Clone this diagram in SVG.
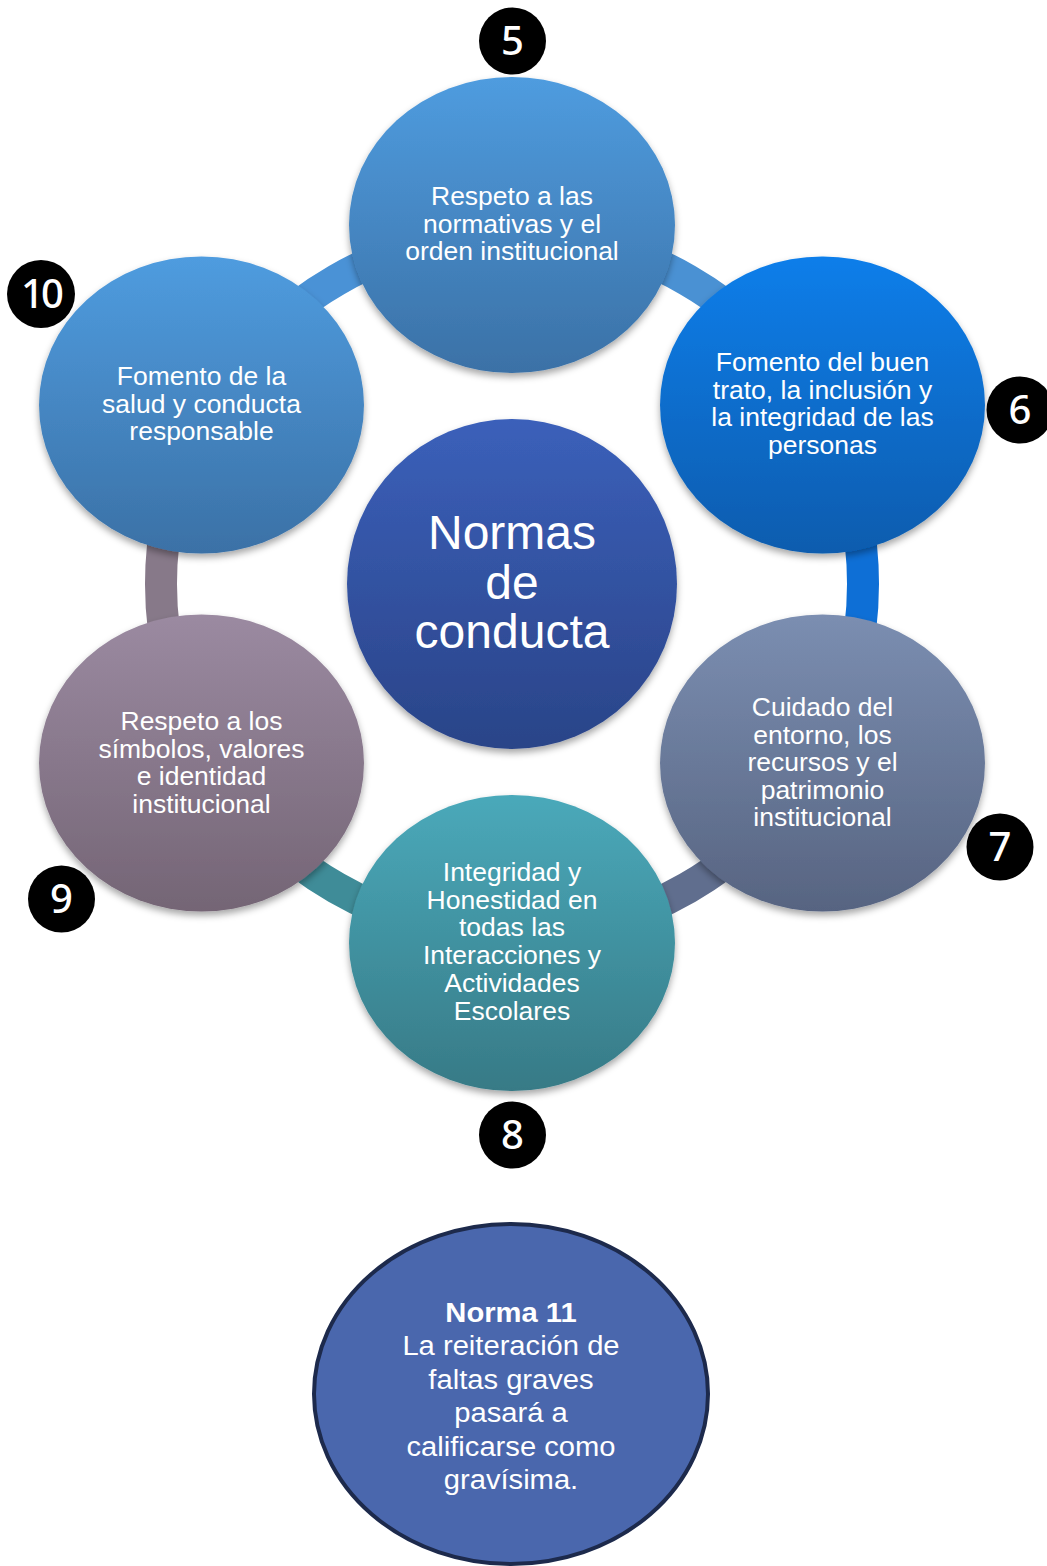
<svg xmlns="http://www.w3.org/2000/svg" width="1047" height="1566" viewBox="0 0 1047 1566">
  <defs>
    <linearGradient id="gBlue" x1="0" y1="0" x2="0" y2="1">
      <stop offset="0" stop-color="#4f9cdf"/>
      <stop offset="1" stop-color="#3b71a6"/>
    </linearGradient>
    <linearGradient id="gBright" x1="0" y1="0" x2="0" y2="1">
      <stop offset="0" stop-color="#0e7eea"/>
      <stop offset="1" stop-color="#0a5cae"/>
    </linearGradient>
    <linearGradient id="gSlate" x1="0" y1="0" x2="0" y2="1">
      <stop offset="0" stop-color="#7b8eb1"/>
      <stop offset="1" stop-color="#576481"/>
    </linearGradient>
    <linearGradient id="gTeal" x1="0" y1="0" x2="0" y2="1">
      <stop offset="0" stop-color="#4aa9ba"/>
      <stop offset="1" stop-color="#377a86"/>
    </linearGradient>
    <linearGradient id="gMauve" x1="0" y1="0" x2="0" y2="1">
      <stop offset="0" stop-color="#9b8aa1"/>
      <stop offset="1" stop-color="#746575"/>
    </linearGradient>
    <linearGradient id="gCore" x1="0" y1="0" x2="0" y2="1">
      <stop offset="0" stop-color="#3b60ba"/>
      <stop offset="1" stop-color="#2a4488"/>
    </linearGradient>
    <filter id="shadow" x="-20%" y="-20%" width="140%" height="150%">
      <feDropShadow dx="0" dy="4" stdDeviation="3.5" flood-color="#000" flood-opacity="0.35"/>
    </filter>
  </defs>
  <style>
    .arc { fill: none; stroke-width: 32; }
    .node { filter: url(#shadow); }
    .lbl { font-family: "Liberation Sans", Arial, sans-serif; font-size: 25px; fill: #ffffff; text-anchor: middle; }
    .core { font-family: "Liberation Sans", Arial, sans-serif; font-size: 48px; fill: #ffffff; text-anchor: middle; }
    .note { font-family: "Liberation Sans", Arial, sans-serif; font-size: 27px; fill: #ffffff; text-anchor: middle; }
    .badge circle { fill: #000000; }
    .badge text { font-family: "Noto Sans", "Open Sans", sans-serif; font-size: 40px; font-weight: 500; fill: #ffffff; text-anchor: middle; }
  </style>
  <rect width="1047" height="1566" fill="#ffffff"/>

  <!-- ring segments between neighbouring nodes -->
  <g id="connectors">
    <path class="arc" stroke="#4a91d3" d="M512 233 A351 351 0 0 1 815.98 408.5"/>
    <path class="arc" stroke="#0e6fd6" d="M815.98 408.5 A351 351 0 0 1 815.98 759.5"/>
    <path class="arc" stroke="#606e8e" d="M815.98 759.5 A351 351 0 0 1 512 935"/>
    <path class="arc" stroke="#3f8c98" d="M512 935 A351 351 0 0 1 208.02 759.5"/>
    <path class="arc" stroke="#877989" d="M208.02 759.5 A351 351 0 0 1 208.02 408.5"/>
    <path class="arc" stroke="#4a92d6" d="M208.02 408.5 A351 351 0 0 1 512 233"/>
  </g>

  <!-- central node -->
  <g id="core">
    <circle class="node" cx="512" cy="584" r="165" fill="url(#gCore)"/>
    <text class="core" x="512" y="549">Normas</text>
    <text class="core" x="512" y="598.5">de</text>
    <text class="core" x="512" y="648">conducta</text>
  </g>

  <!-- outer nodes, clockwise from the top -->
  <g id="n5">
    <ellipse class="node" cx="512" cy="225" rx="163" ry="148" fill="url(#gBlue)"/>
    <g transform="matrix(1.06 0 0 1 -30.72 0)">
      <text class="lbl" x="512" y="205">Respeto a las</text>
      <text class="lbl" x="512" y="233">normativas y el</text>
      <text class="lbl" x="512" y="260.5">orden institucional</text>
    </g>
  </g>

  <g id="n6">
    <ellipse class="node" cx="822.5" cy="405" rx="162.5" ry="148.5" fill="url(#gBright)"/>
    <g transform="matrix(1.06 0 0 1 -49.35 0)">
      <text class="lbl" x="822.5" y="371.5">Fomento del buen</text>
      <text class="lbl" x="822.5" y="399">trato, la inclusión y</text>
      <text class="lbl" x="822.5" y="426.5">la integridad de las</text>
      <text class="lbl" x="822.5" y="454">personas</text>
    </g>
  </g>

  <g id="n7">
    <ellipse class="node" cx="822.5" cy="763" rx="162.5" ry="148.5" fill="url(#gSlate)"/>
    <g transform="matrix(1.06 0 0 1 -49.35 0)">
      <text class="lbl" x="822.5" y="716.5">Cuidado del</text>
      <text class="lbl" x="822.5" y="744">entorno, los</text>
      <text class="lbl" x="822.5" y="771.5">recursos y el</text>
      <text class="lbl" x="822.5" y="799">patrimonio</text>
      <text class="lbl" x="822.5" y="826.5">institucional</text>
    </g>
  </g>

  <g id="n8">
    <ellipse class="node" cx="512" cy="943" rx="163" ry="148" fill="url(#gTeal)"/>
    <g transform="matrix(1.06 0 0 1 -30.72 0)">
      <text class="lbl" x="512" y="881.5">Integridad y</text>
      <text class="lbl" x="512" y="909">Honestidad en</text>
      <text class="lbl" x="512" y="936.5">todas las</text>
      <text class="lbl" x="512" y="964.5">Interacciones y</text>
      <text class="lbl" x="512" y="992">Actividades</text>
      <text class="lbl" x="512" y="1020">Escolares</text>
    </g>
  </g>

  <g id="n9">
    <ellipse class="node" cx="201.5" cy="763" rx="162.5" ry="148.5" fill="url(#gMauve)"/>
    <g transform="matrix(1.06 0 0 1 -12.09 0)">
      <text class="lbl" x="201.5" y="730.5">Respeto a los</text>
      <text class="lbl" x="201.5" y="758">símbolos, valores</text>
      <text class="lbl" x="201.5" y="785.5">e identidad</text>
      <text class="lbl" x="201.5" y="813">institucional</text>
    </g>
  </g>

  <g id="n10">
    <ellipse class="node" cx="201.5" cy="405" rx="162.5" ry="148.5" fill="url(#gBlue)"/>
    <g transform="matrix(1.06 0 0 1 -12.09 0)">
      <text class="lbl" x="201.5" y="385.5">Fomento de la</text>
      <text class="lbl" x="201.5" y="413">salud y conducta</text>
      <text class="lbl" x="201.5" y="440.5">responsable</text>
    </g>
  </g>

  <!-- numbered badges -->
  <g id="b5" class="badge"><circle cx="512.5" cy="41" r="33.5"/><text x="512.5" y="55">5</text></g>
  <g id="b6" class="badge"><circle cx="1020" cy="410" r="33.5"/><text x="1020" y="424">6</text></g>
  <g id="b7" class="badge"><circle cx="1000" cy="847" r="33.5"/><text x="1000" y="861">7</text></g>
  <g id="b8" class="badge"><circle cx="512.5" cy="1135" r="33.5"/><text x="512.5" y="1149">8</text></g>
  <g id="b9" class="badge"><circle cx="61.5" cy="899" r="33.5"/><text x="61.5" y="913">9</text></g>
  <g id="b10" class="badge"><circle cx="41" cy="294" r="34"/><text x="41" y="308" letter-spacing="-3">10</text></g>

  <!-- standalone rule -->
  <g id="n11">
    <ellipse cx="511" cy="1394" rx="197" ry="170" fill="#4a67ad" stroke="#1d2a4c" stroke-width="4"/>
    <g transform="matrix(1.08 0 0 1 -40.88 0)">
      <text class="note" x="511" y="1322" font-weight="bold">Norma 11</text>
      <text class="note" x="511" y="1355.5">La reiteración de</text>
      <text class="note" x="511" y="1389">faltas graves</text>
      <text class="note" x="511" y="1422.5">pasará a</text>
      <text class="note" x="511" y="1456">calificarse como</text>
      <text class="note" x="511" y="1489.5">gravísima.</text>
    </g>
  </g>
</svg>
